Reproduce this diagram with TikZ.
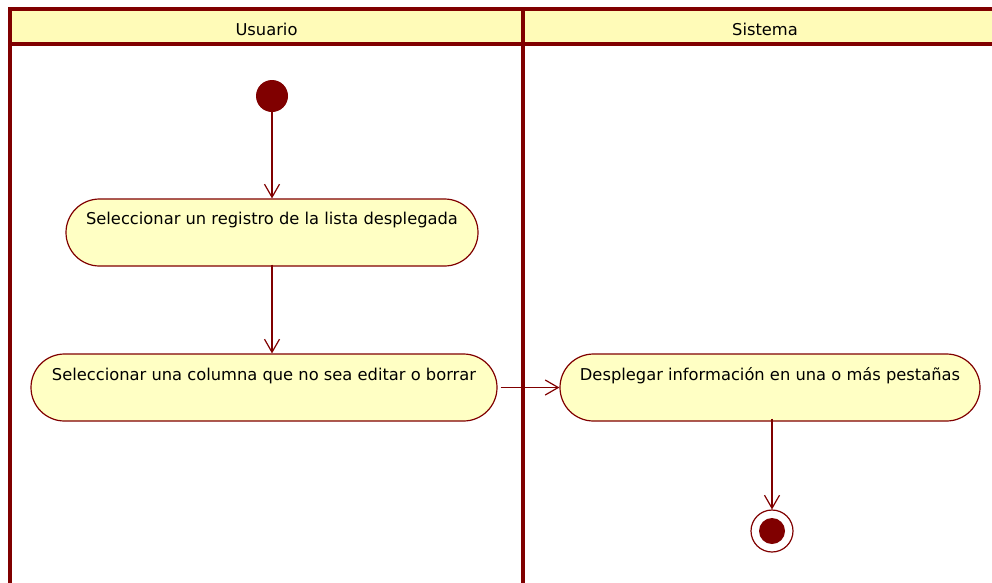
\documentclass[tikz,border=0pt]{standalone}
\usepackage{fontspec}
\setmainfont{DejaVu Sans}
\usetikzlibrary{shapes.misc,arrows.meta}
\definecolor{dred}{HTML}{800000}
\definecolor{hdr}{HTML}{FFFBB8}
\definecolor{act}{HTML}{FFFFC4}
\tikzset{
  lane/.style={draw=dred,line width=4pt},
  actbox/.style={rounded rectangle,draw=dred,fill=act,line width=1.2pt,minimum height=67pt,inner sep=0pt},
  acttext/.style={font=\fontsize{16.3}{19}\selectfont,inner sep=0pt},
  flow/.style={draw=dred,line width=1.2pt,-{Straight Barb[length=13pt,width=15pt,line width=1.2pt]}},
  lanetitle/.style={font=\fontsize{16.3}{19}\selectfont,inner sep=0pt}
}
\begin{document}
\begin{tikzpicture}[x=1pt,y=-1pt]
\useasboundingbox (0,0) rectangle (992,582);
% header
\fill[hdr] (10,9) rectangle (994,44);
\draw[lane] (10,9) -- (994,9);
\draw[lane] (10,44) -- (994,44);
\draw[lane] (10,7) -- (10,584);
\draw[lane] (523,7) -- (523,584);
\node[lanetitle] (lu) at (266.5,29) {Usuario};
\node[lanetitle] (ls) at (765,29) {Sistema};
% initial
\node[circle,fill=dred,minimum size=32pt,inner sep=0pt] (ini) at (272,96) {};
% actions
\node[actbox,minimum width=412pt] (a1) at (272,232.5) {};
\node[acttext] (a1t) at (272,220) {Seleccionar un registro de la lista desplegada};
\node[actbox,minimum width=466pt] (a2) at (264,387.5) {};
\node[acttext] (a2t) at (264,376) {Seleccionar una columna que no sea editar o borrar};
\node[actbox,minimum width=420pt] (a3) at (770,387.5) {};
\node[acttext] (a3t) at (770,376) {Desplegar información en una o más pestañas};
% final
\node[circle,draw=dred,line width=1.2pt,minimum size=42pt,inner sep=0pt] (fin) at (772,531) {};
\node[circle,fill=dred,minimum size=26pt,inner sep=0pt] (finin) at (fin.center) {};
% flows
\draw[flow] ([yshift=2pt]ini.south) -- (a1.north);
\draw[flow] ([yshift=2pt]a1.south) -- (a1.south |- a2.north);
\draw[flow] ([xshift=3pt]a2.east) -- (a3.west);
\draw[flow] ([yshift=3pt]a3.south -| fin.north) -- (fin.north);
\end{tikzpicture}
\end{document}
